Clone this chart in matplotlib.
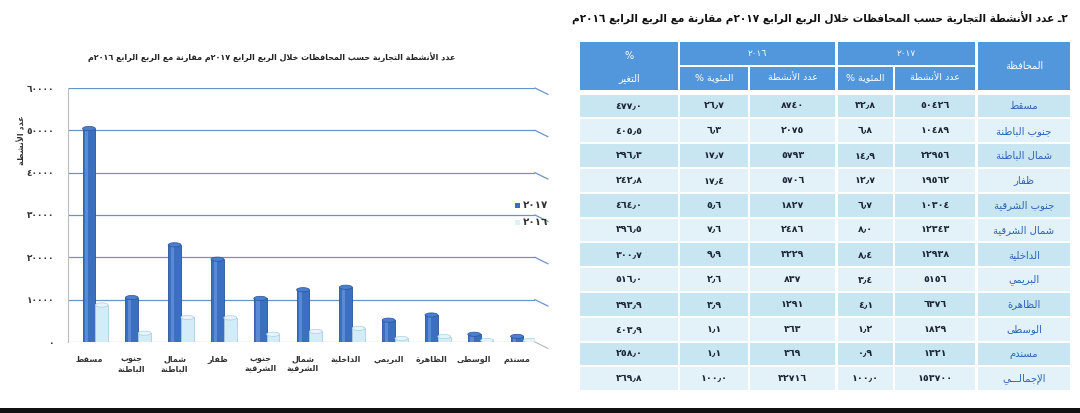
import matplotlib
matplotlib.use("Agg")
import matplotlib.pyplot as plt
from matplotlib.patches import Rectangle, Ellipse
import numpy as np

plt.rcParams['font.family'] = ['DejaVu Sans']

# ---- data ----
provinces = ['مسقط', 'جنوب الباطنة', 'شمال الباطنة', 'ظفار', 'جنوب الشرقية',
             'شمال الشرقية', 'الداخلية', 'البريمي', 'الظاهرة', 'الوسطى', 'مسندم']
total_label = 'الإجمالـــي'
count_2017 = [50426, 10489, 22956, 19562, 10304, 12343, 12938, 5156, 6376, 1829, 1321]
pct_2017 = [32.8, 6.8, 14.9, 12.7, 6.7, 8.0, 8.4, 3.4, 4.1, 1.2, 0.9]
count_2016 = [8740, 2075, 5793, 5706, 1827, 2486, 3229, 837, 1291, 363, 369]
pct_2016 = [26.7, 6.3, 17.7, 17.4, 5.6, 7.6, 9.9, 2.6, 3.9, 1.1, 1.1]
change_pct = [477.0, 405.5, 296.3, 242.8, 464.0, 396.5, 300.7, 516.0, 393.9, 403.9, 258.0]
total_row = [153700, 100.0, 32716, 100.0, 369.8]
y_ticks = [0, 10000, 20000, 30000, 40000, 50000, 60000]

main_title = '٢ـ عدد الأنشطة التجارية حسب المحافظات خلال الربع الرابع ٢٠١٧م مقارنة مع الربع الرابع ٢٠١٦م'
chart_title = 'عدد الأنشطة التجارية حسب المحافظات خلال الربع الرابع ٢٠١٧م مقارنة مع الربع الرابع ٢٠١٦م'
y_label = 'عدد الأنشطة'
series_names = ['٢٠١٧', '٢٠١٦']

# ---- simple arabic shaping (matplotlib has no bidi / joining) ----
DUAL = {'ئ': 0xFE89, 'ب': 0xFE8F, 'ت': 0xFE95, 'ث': 0xFE99, 'ج': 0xFE9D, 'ح': 0xFEA1,
        'خ': 0xFEA5, 'س': 0xFEB1, 'ش': 0xFEB5, 'ص': 0xFEB9, 'ض': 0xFEBD, 'ط': 0xFEC1,
        'ظ': 0xFEC5, 'ع': 0xFEC9, 'غ': 0xFECD, 'ف': 0xFED1, 'ق': 0xFED5, 'ك': 0xFED9,
        'ل': 0xFEDD, 'م': 0xFEE1, 'ن': 0xFEE5, 'ه': 0xFEE9, 'ي': 0xFEF1}
RIGHT = {'آ': 0xFE81, 'أ': 0xFE83, 'ؤ': 0xFE85, 'إ': 0xFE87, 'ا': 0xFE8D, 'ة': 0xFE93,
         'د': 0xFEA9, 'ذ': 0xFEAB, 'ر': 0xFEAD, 'ز': 0xFEAF, 'و': 0xFEED, 'ى': 0xFEEF}
LAMALEF = {'آ': 0xFEF5, 'أ': 0xFEF7, 'إ': 0xFEF9, 'ا': 0xFEFB}
DIGITS = set('٠١٢٣٤٥٦٧٨٩0123456789٫.')


def shape(s):
    toks = []
    i = 0
    while i < len(s):
        if s[i] == 'ل' and i + 1 < len(s) and s[i + 1] in LAMALEF:
            toks.append(('LA', s[i + 1]))
            i += 2
        else:
            toks.append(s[i])
            i += 1

    def j_next(t):
        return t in DUAL or t == 'ـ'

    def j_prev(t):
        return isinstance(t, tuple) or t in DUAL or t in RIGHT or t == 'ـ'

    out = []
    for k, t in enumerate(toks):
        prv = toks[k - 1] if k > 0 else None
        nxt = toks[k + 1] if k + 1 < len(toks) else None
        cp = prv is not None and j_next(prv) and j_prev(t)
        cn = nxt is not None and j_next(t) and j_prev(nxt)
        if isinstance(t, tuple):
            out.append(chr(LAMALEF[t[1]] + (1 if cp else 0)))
        elif t in DUAL:
            f = 3 if (cp and cn) else 2 if cn else 1 if cp else 0
            out.append(chr(DUAL[t] + f))
        elif t in RIGHT:
            out.append(chr(RIGHT[t] + (1 if cp else 0)))
        else:
            out.append(t)
    # visual order: reverse, keep number runs left-to-right
    rev = ''.join(out)[::-1]
    res, run = '', ''
    for c in rev:
        if c in DIGITS:
            run += c
        else:
            res += run[::-1] + c
            run = ''
    return res + run[::-1]


def ar(s):
    return '\n'.join(shape(line) for line in s.split('\n'))


def ind(v, dec=None):
    txt = f'{v:.{dec}f}' if dec is not None else str(v)
    return txt.translate(str.maketrans('0123456789.', '٠١٢٣٤٥٦٧٨٩٫'))


# ---- figure ----
fig = plt.figure(figsize=(10.8, 4.13), dpi=100)
fig.patch.set_facecolor('white')

ax = fig.add_axes([68 / 1080, 71 / 413, 467 / 1080, 254 / 413])
x = np.arange(len(provinces))
w = 0.3
c17, e17 = '#3b6fc0', '#2a5499'
c16, e16 = '#d3ecf7', '#a9cfe0'

ax.set_xlim(-0.49, 10.42)
ax.set_ylim(0, 60000)
for yv in y_ticks:
    col = '#6b93cc' if yv > 0 else '#b8bec8'
    ax.axhline(yv, color=col, lw=0.9, zorder=1)
    ax.plot([10.42, 10.72], [yv, yv - 1500], color=col, lw=0.9, clip_on=False, zorder=1)

cap_h = 1000
ax.bar(x, count_2017, w, color=c17, edgecolor=e17, lw=0.6, zorder=3)
ax.bar(x - 0.05, count_2017, w * 0.25, color='#5a8ad6', lw=0, zorder=4)
ax.bar(x + w, count_2016, w, color=c16, edgecolor=e16, lw=0.6, zorder=3)
for xi, v in zip(x, count_2017):
    ax.add_patch(Ellipse((xi, v), w, cap_h, facecolor='#4b7ed0', edgecolor=e17, lw=0.5, zorder=5))
for xi, v in zip(x, count_2016):
    ax.add_patch(Ellipse((xi + w, v), w, cap_h, facecolor='#e6f5fb', edgecolor=e16, lw=0.5, zorder=5))

for s in ['top', 'right', 'bottom']:
    ax.spines[s].set_visible(False)
ax.spines['left'].set_color('#b8bec8')
ax.set_yticks(y_ticks)
ax.set_yticklabels([ind(v) for v in y_ticks], fontsize=6.5, fontweight='bold', color='#333333')
ax.tick_params(axis='y', length=0, pad=10)
ax.set_xticks(x)
ax.set_xticklabels([ar(p.replace(' ', '\n')) for p in provinces], fontsize=5.8,
                   fontweight='bold', color='#333333', linespacing=1.1)
ax.tick_params(axis='x', length=0, pad=9)
ax.set_facecolor('none')

fig.text(22 / 1080, 1 - 140 / 413, ar(y_label), rotation=90, ha='center', va='center',
         fontsize=5.8, fontweight='bold', color='#333333')
fig.text(272 / 1080, 1 - 57 / 413, ar(chart_title), ha='center', va='center',
         fontsize=5.8, fontweight='bold', color='#222222')

# legend
for k, (nm, cc) in enumerate(zip(series_names, [c17, '#dff2f9'])):
    yy = 1 - (205 + k * 17) / 413
    fig.patches.append(Rectangle((515 / 1080, yy - 0.008), 5 / 1080, 5 / 413,
                                 transform=fig.transFigure, facecolor=cc, edgecolor='none'))
    fig.text(523 / 1080, yy, nm, ha='left', va='center',
             fontsize=7.5, fontweight='bold', color='#333333')

# ---- table ----
tx = fig.add_axes([0, 0, 1, 1])
tx.set_xlim(0, 1080)
tx.set_ylim(413, 0)
tx.axis('off')

hdr = '#5296dc'
cols = [(580, 678), (680, 748), (750, 835), (838, 893), (895, 975), (978, 1070)]


def cell(x0, x1, y0, y1, fc):
    tx.add_patch(Rectangle((x0, y0), x1 - x0, y1 - y0, facecolor=fc, edgecolor='none'))


# header
cell(978, 1070, 42, 90, hdr)
tx.text(1024, 66, ar('المحافظة'), ha='center', va='center', color='white', fontsize=7)
cell(838, 975, 42, 65, hdr)
tx.text(906, 54, ind(2017), ha='center', va='center', color='white', fontsize=6.5)
cell(680, 835, 42, 65, hdr)
tx.text(757, 54, ind(2016), ha='center', va='center', color='white', fontsize=6.5)
cell(580, 678, 42, 90, hdr)
tx.text(629, 56, '%', ha='center', va='center', color='white', fontsize=7)
tx.text(629, 78, ar('التغير'), ha='center', va='center', color='white', fontsize=7)
for (a, b), lab in zip([cols[4], cols[3], cols[2], cols[1]],
                       ['عدد الأنشطة', 'المئوية %', 'عدد الأنشطة', 'المئوية %']):
    cell(a, b, 67, 90, hdr)
    tx.text((a + b) / 2, 78, ar(lab), ha='center', va='center', color='white', fontsize=6.8)

rows = []
for i in range(len(provinces)):
    rows.append((provinces[i], [ind(count_2017[i]), ind(pct_2017[i], 1), ind(count_2016[i]),
                                ind(pct_2016[i], 1), ind(change_pct[i], 1)]))
rows.append((total_label, [ind(total_row[0]), ind(total_row[1], 1), ind(total_row[2]),
                           ind(total_row[3], 1), ind(total_row[4], 1)]))

rh = 24.8
y_start = 94.5
for r, (name, vals) in enumerate(rows):
    y0 = y_start + r * rh
    y1 = y0 + rh - 2
    fc = '#c8e6f2' if r % 2 == 0 else '#e2f2f8'
    for a, b in cols:
        cell(a, b, y0, y1, fc)
    ym = (y0 + y1) / 2
    tx.text(1024, ym, ar(name), ha='center', va='center', color='#2b63b8', fontsize=7.2)
    for (a, b), v in zip([cols[4], cols[3], cols[2], cols[1], cols[0]], vals):
        tx.text((a + b) / 2, ym, v, ha='center', va='center', color='#1c2436',
                fontsize=6.8, fontweight='bold')

tx.text(1068, 18, ar(main_title), ha='right', va='center', fontsize=7.6,
        fontweight='bold', color='#111111')

# dark band at bottom of scan
tx.add_patch(Rectangle((0, 408), 1080, 6, facecolor='#111111', edgecolor='none'))

fig.savefig('out.png', dpi=100, facecolor='white')
